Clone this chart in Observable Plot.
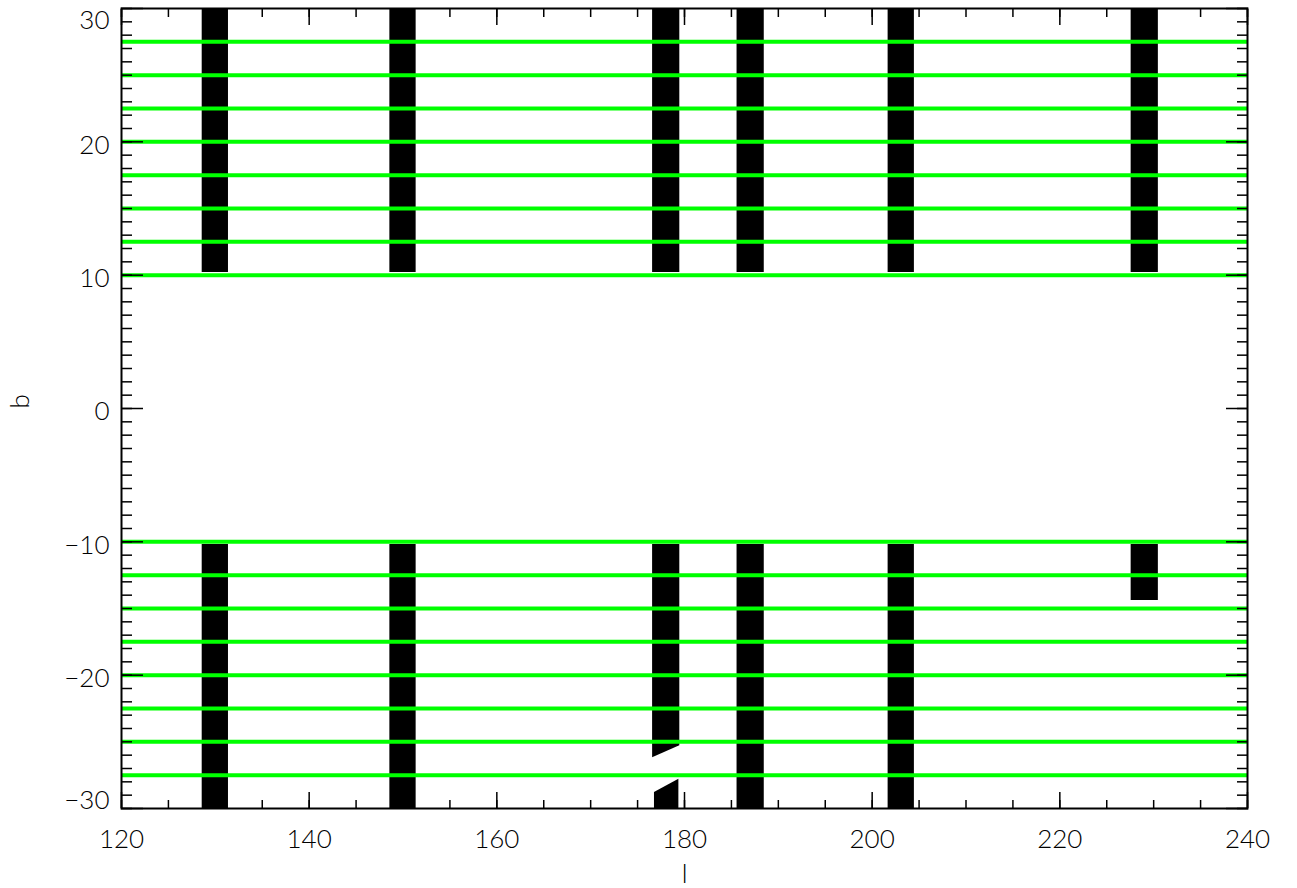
<!DOCTYPE html>
<html>
<head>
<meta charset="utf-8">
<script src="https://cdn.jsdelivr.net/npm/d3@7"></script>
<script src="https://cdn.jsdelivr.net/npm/@observablehq/plot@0.6"></script>
<style>
  body { margin: 0; background: #fff; }
</style>
</head>
<body>
<div id="chart"></div>
<script>
// Survey stripe footprints in galactic coordinates (degrees)
const stripLStart = [128.6, 148.6, 176.6, 185.6, 201.7, 227.6];
const stripLEnd   = [131.4, 151.4, 179.5, 188.5, 204.5, 230.5];

// northern parts of each stripe (b range)
const northBMin = [10.2, 10.2, 10.2, 10.2, 10.2, 10.2];
const northBMax = [30, 30, 30, 30, 30, 30];

// southern parts (the l≈178 stripe is drawn separately, it has slanted ends)
const southBTop    = [-10.2, -10.2, null, -10.2, -10.2, -10.2];
const southBBottom = [-30, -30, null, -30, -30, -14.4];

// l≈178 southern stripe: upper piece and the short piece near b = -30
const slantUpperL      = [176.6, 179.5];
const slantUpperTop    = [-10.2, -10.2];
const slantUpperBottom = [-26.2, -25.3];
const slantLowerL      = [176.8, 179.4];
const slantLowerTop    = [-28.8, -27.8];
const slantLowerBottom = [-30, -30];

// latitude bin edges
const bandEdges = [-27.5, -25, -22.5, -20, -17.5, -15, -12.5, -10,
                   10, 12.5, 15, 17.5, 20, 22.5, 25, 27.5];

// axis ticks
const xMajorTicks = [120, 140, 160, 180, 200, 220, 240];
const xMinorTicks = [120, 125, 130, 135, 140, 145, 150, 155, 160, 165, 170, 175, 180,
                     185, 190, 195, 200, 205, 210, 215, 220, 225, 230, 235, 240];
const yMajorTicks = [-30, -20, -10, 0, 10, 20, 30];
const yInnerLabels = [-20, -10, 0, 10, 20];
const yMinorTicks = [-30, -29, -28, -27, -26, -25, -24, -23, -22, -21, -20, -19, -18, -17, -16,
                     -15, -14, -13, -12, -11, -10, -9, -8, -7, -6, -5, -4, -3, -2, -1, 0,
                     1, 2, 3, 4, 5, 6, 7, 8, 9, 10, 11, 12, 13, 14, 15, 16, 17, 18, 19, 20,
                     21, 22, 23, 24, 25, 26, 27, 28, 29, 30];

// rectangles for the straight-edged stripe pieces
const pieces = [];
stripLStart.forEach((l1, i) => {
  pieces.push({l1, l2: stripLEnd[i], b1: northBMin[i], b2: northBMax[i]});
  if (southBTop[i] != null) pieces.push({l1, l2: stripLEnd[i], b1: southBBottom[i], b2: southBTop[i]});
});
const slantUpper = slantUpperL.map((l, i) => ({l, top: slantUpperTop[i], bottom: slantUpperBottom[i]}));
const slantLower = slantLowerL.map((l, i) => ({l, top: slantLowerTop[i], bottom: slantLowerBottom[i]}));

const fmt = d => d < 0 ? "\u2212" + Math.abs(d) : String(d);
const font = "Lato, 'Liberation Sans', sans-serif";

const chart = Plot.plot({
  width: 1297,
  height: 888,
  marginLeft: 121,
  marginRight: 50,
  marginTop: 8,
  marginBottom: 80,
  style: {fontFamily: font, fontSize: "26px", fontWeight: 300, background: "#fff", color: "#000"},
  x: {domain: [120, 240]},
  y: {domain: [-30, 30]},
  marks: [
    // stripe footprints
    Plot.rect(pieces, {x1: "l1", x2: "l2", y1: "b1", y2: "b2", fill: "#000"}),
    Plot.areaY(slantUpper, {x: "l", y1: "top", y2: "bottom", fill: "#000"}),
    Plot.areaY(slantLower, {x: "l", y1: "top", y2: "bottom", fill: "#000"}),

    // latitude bin edges
    Plot.ruleY(bandEdges, {stroke: "#00ff00", strokeWidth: 4}),

    // inward ticks on all four sides
    Plot.axisX(xMinorTicks, {anchor: "bottom", tickSize: -8, tickFormat: () => "", label: null, strokeWidth: 1.5}),
    Plot.axisX(xMinorTicks, {anchor: "top", tickSize: -8, tickFormat: () => "", label: null, strokeWidth: 1.5}),
    Plot.axisX(xMajorTicks, {anchor: "bottom", tickSize: -16, tickFormat: () => "", label: null, strokeWidth: 1.5}),
    Plot.axisX(xMajorTicks, {anchor: "top", tickSize: -16, tickFormat: () => "", label: null, strokeWidth: 1.5}),
    Plot.axisY(yMinorTicks, {anchor: "left", tickSize: -11, tickFormat: () => "", label: null, strokeWidth: 1.5}),
    Plot.axisY(yMinorTicks, {anchor: "right", tickSize: -11, tickFormat: () => "", label: null, strokeWidth: 1.5}),
    Plot.axisY(yMajorTicks, {anchor: "left", tickSize: -22, tickFormat: () => "", label: null, strokeWidth: 1.5}),
    Plot.axisY(yMajorTicks, {anchor: "right", tickSize: -22, tickFormat: () => "", label: null, strokeWidth: 1.5}),

    // tick labels
    Plot.axisX(xMajorTicks, {anchor: "bottom", tickSize: 0, tickPadding: 21, tickFormat: fmt, label: null, fontSize: 26}),
    Plot.axisY(yInnerLabels, {anchor: "left", tickSize: 0, tickPadding: 12, tickFormat: fmt, label: null, fontSize: 26, dy: 3.5}),
    Plot.axisY([30], {anchor: "left", tickSize: 0, tickPadding: 12, tickFormat: fmt, label: null, fontSize: 26, dy: 12}),
    Plot.axisY([-30], {anchor: "left", tickSize: 0, tickPadding: 12, tickFormat: fmt, label: null, fontSize: 26, dy: -8}),

    // axis titles
    Plot.text(["l"], {frameAnchor: "bottom", dy: 74, lineAnchor: "bottom", fontSize: 26, fill: "#000", text: d => d}),
    Plot.text(["b"], {frameAnchor: "left", dx: -101, rotate: -90, fontSize: 26, fill: "#000", text: d => d}),

    Plot.frame({stroke: "#000", strokeWidth: 2})
  ]
});

document.getElementById("chart").appendChild(chart);
</script>
</body>
</html>
